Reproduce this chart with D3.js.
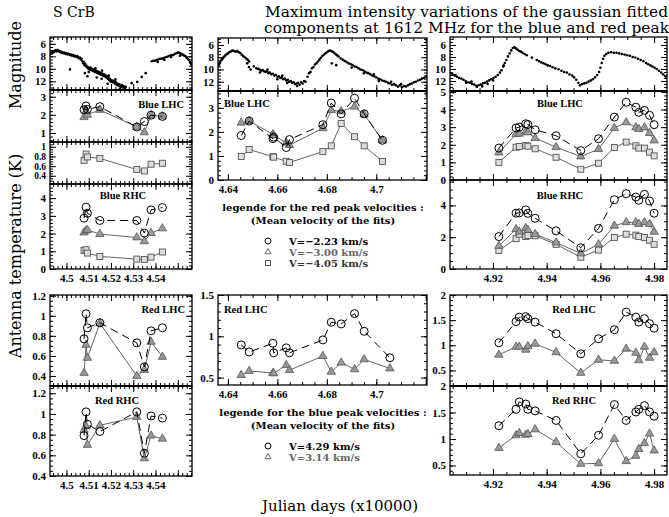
<!DOCTYPE html>
<html><head><meta charset="utf-8">
<script src="https://cdn.jsdelivr.net/npm/d3@7"></script>
<style>body{margin:0;background:#fff}svg{display:block}</style>
</head><body><svg id="c" width="669" height="517"></svg>
<script>
// ---------------- DATA ----------------
const magLeft = [[4.4929,7.6],[4.4932,7.4],[4.4936,7.5],[4.4940,7.2],[4.4944,7.3],[4.4948,7.1],[4.4952,7.0],[4.4956,7.2],[4.4960,7.0],[4.4964,7.1],[4.4968,7.3],[4.4972,7.2],[4.4976,7.4],[4.4980,7.3],[4.4985,7.5],[4.4990,7.4],[4.4995,7.6],[4.5000,7.5],[4.5005,7.7],[4.5010,7.6],[4.5015,7.8],[4.5020,7.7],[4.5025,7.9],[4.5030,7.8],[4.5035,8.0],[4.5040,7.9],[4.5045,8.1],[4.5050,8.0],[4.5055,8.3],[4.5060,8.2],[4.5064,8.5],[4.5068,8.4],[4.5072,8.8],[4.5075,9.1],[4.5078,8.9],[4.5081,9.4],[4.5084,9.2],[4.5087,9.6],[4.5090,9.5],[4.5093,9.8],[4.5096,9.7],[4.5099,10.0],[4.5102,9.9],[4.5105,10.1],[4.5108,9.8],[4.5111,10.2],[4.5114,10.0],[4.5117,10.3],[4.5120,10.1],[4.5123,10.4],[4.5126,10.2],[4.5129,10.5],[4.5132,10.3],[4.5135,10.6],[4.5138,10.4],[4.5141,10.7],[4.5144,10.5],[4.5147,10.8],[4.5150,10.6],[4.5153,10.9],[4.5156,10.7],[4.5159,11.0],[4.5162,10.8],[4.5165,11.1],[4.5168,10.9],[4.5171,11.2],[4.5174,11.0],[4.5177,11.3],[4.5180,11.4],[4.5183,11.2],[4.5186,11.6],[4.5189,11.5],[4.5192,11.8],[4.5195,11.6],[4.5198,12.0],[4.5201,11.8],[4.5204,12.1],[4.5207,11.9],[4.5210,12.2],[4.5214,12.0],[4.5218,12.4],[4.5222,12.2],[4.5226,12.6],[4.5230,12.4],[4.5234,12.7],[4.5238,12.5],[4.5242,12.8],[4.5246,12.9],[4.5250,12.6],[4.5254,13.0],[4.5258,12.8],[4.5262,13.1],[4.5266,12.9],
[4.5016,10.1],[4.5083,10.7],[4.5094,11.2],[4.5136,11.4],[4.5158,11.6],[4.5218,12.0],[4.5185,12.4],[4.5240,13.2],[4.5100,10.5],[4.5130,9.9],[4.5160,10.3],[4.5190,11.1],[4.5220,11.7],
[4.5293,12.3],[4.5318,12.1],[4.5338,11.3],[4.5356,10.7],
[4.5383,8.8],[4.5390,8.7],[4.5398,8.7],[4.5405,8.6],[4.5412,8.5],[4.5420,8.4],[4.5428,8.4],[4.5435,8.3],[4.5442,8.2],[4.5450,8.1],[4.5458,8.0],[4.5465,7.9],[4.5472,7.8],[4.5480,7.8],[4.5487,7.6],[4.5494,7.5],[4.5500,7.4],[4.5505,7.4],[4.5510,7.5],[4.5515,7.6],[4.5520,7.7],[4.5525,7.8],[4.5530,7.9],[4.5535,8.0],[4.5540,8.2],[4.5545,8.4],[4.5550,8.6],[4.5555,8.9],[4.5560,9.2],[4.5563,9.4],[4.5410,8.9],[4.5440,8.6],[4.5470,8.1],[4.5510,7.9]];

const magMid = [[4.6363,9.3],[4.6366,9.0],[4.6369,8.8],[4.6373,8.5],[4.6377,8.3],[4.6381,8.1],[4.6385,7.9],[4.6390,7.7],[4.6395,7.5],[4.6400,7.4],[4.6405,7.2],[4.6410,7.1],[4.6415,7.0],[4.6420,6.9],[4.6426,7.0],[4.6432,7.1],[4.6438,7.0],[4.6444,7.2],[4.6450,7.3],[4.6456,7.6],[4.6462,7.8],[4.6468,8.0],[4.6474,8.2],[4.6480,8.4],[4.6486,8.7],
[4.6485,9.6],[4.6492,10.0],[4.6478,9.0],
[4.6505,9.5],[4.6515,9.8],[4.6522,9.9],[4.6528,10.0],[4.6534,10.2],[4.6540,10.1],[4.6546,10.3],[4.6552,10.4],[4.6558,10.3],[4.6564,10.6],[4.6570,10.5],[4.6576,10.8],[4.6582,10.7],[4.6588,11.0],[4.6594,10.9],[4.6600,11.2],[4.6606,11.1],[4.6612,11.4],[4.6618,11.3],[4.6624,11.6],[4.6630,11.5],[4.6636,11.8],[4.6642,11.7],[4.6648,12.0],[4.6654,11.9],[4.6660,12.2],[4.6666,12.1],[4.6672,12.4],[4.6678,12.3],[4.6684,12.2],[4.6690,12.5],[4.6696,12.1],[4.6702,12.3],[4.6708,11.9],[4.6714,12.0],
[4.6530,10.5],[4.6560,10.0],[4.6600,11.6],[4.6640,12.2],[4.6680,12.7],[4.6620,11.0],
[4.6722,11.2],[4.6728,10.6],[4.6734,10.4],[4.6740,9.8],[4.6746,9.6],[4.6752,9.2],[4.6758,9.0],[4.6764,8.7],[4.6770,8.4],[4.6776,8.1],[4.6782,7.8],[4.6788,7.6],[4.6794,7.4],[4.6800,7.2],[4.6806,7.0],[4.6812,6.9],[4.6818,7.0],[4.6824,7.1],[4.6830,7.3],[4.6836,7.5],[4.6842,7.7],[4.6848,7.9],
[4.6820,9.0],[4.6838,9.3],
[4.6856,8.2],[4.6864,8.4],[4.6872,8.6],[4.6880,8.8],[4.6888,9.0],[4.6896,9.1],[4.6904,9.3],[4.6912,9.5],[4.6920,9.6],[4.6928,9.8],[4.6936,10.0],[4.6944,10.1],[4.6952,10.3],[4.6960,10.5],[4.6968,10.6],[4.6976,10.8],[4.6984,11.0],[4.6992,11.1],[4.7000,11.3],[4.7008,11.5],[4.7016,11.6],[4.7024,11.8],[4.7032,11.9],[4.7040,12.0],[4.7048,12.2],[4.7056,12.3],[4.7064,12.5],[4.7072,12.4],[4.7080,12.6],[4.7088,12.8],[4.7096,12.6],[4.7104,12.9],[4.7112,12.7],[4.7120,12.8],[4.7128,12.6],[4.7136,12.4],[4.7144,12.3],[4.7152,12.1],[4.7160,12.0],[4.7168,11.8],[4.7176,11.7],[4.7184,11.5],[4.7192,11.4],[4.7200,11.2],
[4.6900,9.7],[4.6950,10.6],[4.6990,10.8],[4.7010,11.9],[4.7060,12.0],[4.7100,12.4]];

const magRight = [[4.9043,10.7],[4.9050,10.9],[4.9058,11.1],[4.9066,11.3],[4.9074,11.5],[4.9082,11.6],[4.9090,11.8],[4.9098,12.0],[4.9106,12.2],[4.9114,12.3],[4.9122,12.5],[4.9130,12.6],[4.9138,12.8],[4.9146,12.7],[4.9154,12.6],[4.9162,12.4],[4.9170,12.3],[4.9178,12.1],[4.9186,11.9],[4.9194,11.7],[4.9202,11.5],[4.9210,11.3],[4.9218,11.0],[4.9226,10.6],[4.9232,10.2],[4.9238,9.6],[4.9244,9.0],[4.9250,8.5],[4.9256,7.9],[4.9262,7.4],[4.9268,6.9],[4.9274,6.5],[4.9280,6.4],[4.9286,6.6],[4.9292,6.8],[4.9298,7.0],[4.9304,7.1],[4.9310,7.3],[4.9318,7.5],[4.9326,7.7],
[4.9060,11.0],[4.9100,12.3],[4.9140,13.0],[4.9180,12.5],[4.9120,12.1],[4.9160,12.9],[4.9200,11.9],[4.9240,9.4],
[4.9345,8.1],[4.9363,8.5],[4.9372,8.7],[4.9380,8.9],[4.9388,9.05],[4.9396,9.2],[4.9404,9.4],[4.9413,9.5],[4.9422,9.7],[4.9432,9.9],[4.9444,10.05],[4.9455,10.3],[4.9465,10.5],[4.9475,10.6],[4.9485,10.9],[4.9495,11.1],[4.9502,11.4],[4.9510,11.8],[4.9518,12.3],[4.9524,12.7],[4.9532,12.5],[4.9540,12.4],[4.9548,12.3],[4.9556,12.1],[4.9564,11.9],[4.9572,11.7],[4.9580,11.4],[4.9588,11.0],[4.9595,10.5],[4.9600,9.8],[4.9605,9.0],[4.9610,8.3],[4.9615,7.8],[4.9622,7.5],[4.9630,7.3],[4.9640,7.2],[4.9650,7.3],[4.9660,7.3],[4.9670,7.4],[4.9680,7.5],[4.9690,7.6],[4.9700,7.7],[4.9710,7.8],[4.9720,8.0],[4.9730,8.1],[4.9740,8.3],[4.9750,8.5],[4.9760,8.7],[4.9770,9.0],[4.9778,9.2],[4.9786,9.4],[4.9794,9.6],[4.9802,9.8],[4.9810,10.0],[4.9818,10.3],[4.9826,10.6],[4.9834,10.9],[4.9842,11.2],[4.9847,11.4]];

// epochs (JD / 10000)
const epochsLeft   = [4.5079, 4.5088, 4.5094, 4.5150, 4.5316, 4.5350, 4.5380, 4.5431];
const epochsMid    = [4.6454, 4.6486, 4.6582, 4.6585, 4.6636, 4.6649, 4.6784, 4.6818, 4.6858, 4.6912, 4.6951, 4.7025];
const epochsMidRed = [4.6454, 4.6486, 4.6582, 4.6585, 4.6636, 4.6649, 4.6784, 4.6818, 4.6858, 4.6912, 4.6951, 4.7055];
const epochsRight  = [4.9222, 4.9286, 4.9298, 4.9322, 4.9330, 4.9357, 4.9435, 4.9527, 4.9593, 4.9652, 4.9696, 4.9732, 4.9743, 4.9764, 4.9783, 4.9800];

// tick labels
const xLabelsLeft  = [4.5, 4.51, 4.52, 4.53, 4.54];
const xLabelsMid   = [4.64, 4.66, 4.68, 4.7];
const xLabelsRight = [4.92, 4.94, 4.96, 4.98];

// left column (K)
const leftBlueLHC_c  = [2.28, 2.49, 2.30, 2.45, 1.33, 1.63, 1.98, 1.91];
const leftBlueLHC_t  = [1.87, 2.20, 2.00, 2.27, 1.33, 1.03, 1.98, 1.91];
const leftBlueLHC_s  = [0.72, 0.85, 0.79, 0.76, 0.53, 0.50, 0.64, 0.66];
const leftBlueRHC_c  = [2.87, 3.49, 3.15, 2.74, 2.74, 2.03, 3.34, 3.47];
const leftBlueRHC_t  = [2.06, 2.17, 2.20, 1.97, 1.78, 1.56, 2.03, 2.29];
const leftBlueRHC_s  = [1.05, 1.09, 0.90, 0.71, 0.56, 0.54, 0.67, 0.96];
const leftRedLHC_c   = [0.77, 1.02, 0.88, 0.93, 0.73, 0.49, 0.85, 0.88];
const leftRedLHC_t   = [0.43, 0.71, 0.58, 0.925, 0.40, 0.46, 0.74, 0.59];
const leftRedRHC_c   = [0.79, 1.02, 0.90, 0.83, 1.02, 0.62, 0.98, 0.96];
const leftRedRHC_t   = [0.845, 0.88, 0.70, 0.89, 0.97, 0.57, 0.79, 0.76];
// middle column
const midBlueLHC_c   = [1.85, 2.45, 1.72, 1.78, 1.35, 1.68, 2.30, 3.20, 2.75, 3.40, 2.75, 1.65];
const midBlueLHC_t   = [2.38, 2.45, 1.90, 1.86, 1.55, 1.45, 2.15, 2.90, 2.85, 3.05, 2.72, 1.65];
const midBlueLHC_s   = [0.98, 1.27, 0.97, 0.95, 0.78, 0.73, 1.18, 1.42, 2.35, 1.80, 1.42, 0.77];
const midRedLHC_c    = [0.895, 0.81, 0.915, 0.80, 0.86, 0.80, 0.956, 1.17, 1.15, 1.275, 1.06, 0.74];
const midRedLHC_t    = [0.53, 0.58, 0.555, 0.55, 0.65, 0.59, 0.76, 0.57, 0.68, 0.60, 0.72, 0.61];
// right column
const rightBlueLHC_c = [1.81, 2.95, 3.00, 3.19, 3.15, 2.85, 2.51, 1.67, 2.34, 3.57, 4.41, 4.13, 3.84, 3.95, 3.67, 3.14];
const rightBlueLHC_t = [1.56, 2.60, 2.62, 2.74, 2.70, 2.38, 1.86, 1.33, 1.75, 2.95, 3.27, 2.98, 2.89, 2.98, 2.66, 2.24];
const rightBlueLHC_s = [1.00, 1.86, 1.90, 1.96, 1.92, 1.77, 1.29, 0.61, 0.95, 1.84, 2.15, 1.94, 1.81, 1.81, 1.58, 1.37];
const rightBlueRHC_c = [2.04, 3.51, 3.53, 3.72, 3.50, 3.19, 2.40, 1.34, 2.55, 4.36, 4.74, 4.53, 4.32, 4.70, 4.28, 3.51];
const rightBlueRHC_t = [1.45, 2.51, 2.34, 2.57, 2.45, 2.19, 1.66, 0.98, 1.55, 2.72, 2.94, 2.94, 2.83, 2.94, 2.83, 2.34];
const rightBlueRHC_s = [1.17, 1.91, 2.19, 2.04, 2.10, 2.09, 1.55, 0.74, 1.19, 1.98, 2.19, 2.13, 2.04, 1.98, 1.81, 1.55];
const rightRedLHC_c  = [1.05, 1.47, 1.56, 1.57, 1.53, 1.46, 1.23, 0.83, 1.13, 1.31, 1.66, 1.56, 1.46, 1.53, 1.43, 1.34];
const rightRedLHC_t  = [0.81, 0.97, 0.97, 0.91, 0.98, 1.03, 0.86, 0.45, 0.71, 0.69, 0.93, 0.85, 0.70, 0.97, 0.75, 0.86];
const rightRedRHC_c  = [1.25, 1.56, 1.70, 1.66, 1.56, 1.53, 1.35, 0.72, 1.07, 1.65, 1.35, 1.51, 1.56, 1.63, 1.51, 1.43];
const rightRedRHC_t  = [0.83, 1.07, 1.11, 1.08, 1.09, 1.18, 0.94, 0.53, 0.54, 1.00, 0.58, 0.68, 0.81, 0.92, 1.10, 0.78];

const legendRed  = ["V=\u22122.23 km/s", "V=\u22123.00 km/s", "V=\u22124.05 km/s"];
const legendBlue = ["V=4.29 km/s", "V=3.14 km/s"];

// ---------------- DRAWING ----------------
const svg = d3.select("#c");
const SERIF = "'Liberation Serif', 'DejaVu Serif', serif";
const DSERIF = "'DejaVu Serif', serif";
const fmt = d => String(+d.toFixed(3));
function stepTicks(dom, step){
  const lo = Math.min(dom[0],dom[1]), hi = Math.max(dom[0],dom[1]); const out=[];
  for(let k=Math.ceil(lo/step-1e-6); k*step<=hi+1e-6; k++) out.push(+(k*step).toFixed(6));
  return out;
}
let clipN = 0;
function panel(p){
  const x = d3.scaleLinear().domain(p.xd).range([p.x0,p.x1]);
  const y = d3.scaleLinear().domain(p.yd).range([p.y1,p.y0]);
  const g = svg.append("g");
  const id = "cl"+(clipN++);
  svg.append("clipPath").attr("id",id).append("rect")
    .attr("x",p.x0).attr("y",p.y0).attr("width",p.x1-p.x0).attr("height",p.y1-p.y0);
  const xMaj = stepTicks(p.xd,p.xMaj), xMin = stepTicks(p.xd,p.xMin);
  const yMaj = stepTicks(p.yd,p.yMaj), yMin = stepTicks(p.yd,p.yMin);
  const fs = p.fs || 11;
  const style = sel => {
    sel.select(".domain").remove();
    sel.attr("font-family",null).attr("font-size",null);
    sel.selectAll("line").attr("stroke","#000").attr("stroke-width",1);
    sel.selectAll("text").attr("font-family",SERIF).attr("font-weight","bold").attr("font-size",fs).attr("fill","#000");
  };
  const xl = p.xLab ? (d => p.xLab.some(v=>Math.abs(v-d)<1e-6) ? fmt(d) : "") : "";
  g.append("g").attr("transform",`translate(0,${p.y1})`).call(d3.axisBottom(x).tickValues(xMin).tickSizeInner(-3).tickSizeOuter(0).tickFormat("")).call(style);
  g.append("g").attr("transform",`translate(0,${p.y0})`).call(d3.axisTop(x).tickValues(xMin).tickSizeInner(-3).tickSizeOuter(0).tickFormat("")).call(style);
  g.append("g").attr("transform",`translate(${p.x0},0)`).call(d3.axisLeft(y).tickValues(yMin).tickSizeInner(-3).tickSizeOuter(0).tickFormat("")).call(style);
  g.append("g").attr("transform",`translate(${p.x1},0)`).call(d3.axisRight(y).tickValues(yMin).tickSizeInner(-3).tickSizeOuter(0).tickFormat("")).call(style);
  g.append("g").attr("transform",`translate(0,${p.y1})`).call(d3.axisBottom(x).tickValues(xMaj).tickSizeInner(-6).tickSizeOuter(0).tickPadding(5).tickFormat(xl)).call(style);
  g.append("g").attr("transform",`translate(0,${p.y0})`).call(d3.axisTop(x).tickValues(xMaj).tickSizeInner(-6).tickSizeOuter(0).tickFormat("")).call(style);
  g.append("g").attr("transform",`translate(${p.x0},0)`).call(d3.axisLeft(y).tickValues(yMaj).tickSizeInner(-6).tickSizeOuter(0).tickPadding(4).tickFormat(fmt)).call(style);
  g.append("g").attr("transform",`translate(${p.x1},0)`).call(d3.axisRight(y).tickValues(yMaj).tickSizeInner(-6).tickSizeOuter(0).tickFormat("")).call(style);
  g.append("rect").attr("x",p.x0).attr("y",p.y0).attr("width",p.x1-p.x0).attr("height",p.y1-p.y0)
    .attr("fill","none").attr("stroke","#000").attr("stroke-width",1.3);
  if(p.label){
    g.append("text").attr("x",p.label[0]).attr("y",p.label[1]).attr("text-anchor",p.label[2]||"start")
      .attr("font-family",SERIF).attr("font-weight","bold").attr("font-size",10.5).text(p.label[3]);
  }
  const plot = g.append("g").attr("clip-path",`url(#${id})`);
  return {x,y,g,plot};
}
function magDots(P, data){
  P.plot.selectAll(null).data(data).join("circle")
    .attr("cx",d=>P.x(d[0])).attr("cy",d=>P.y(d[1])).attr("r",1.3).attr("fill","#000");
}
const triSym = d3.symbol().type(d3.symbolTriangle).size(30);
function series(P, t, v, kind){
  const pts = t.map((tt,i)=>({t:tt,v:v[i]}));
  const line = d3.line().x(d=>P.x(d.t)).y(d=>P.y(d.v));
  const path = P.g.append("path").attr("d",line(pts)).attr("fill","none");
  if(kind==="c") path.attr("stroke","#000").attr("stroke-width",1).attr("stroke-dasharray","8,5");
  else path.attr("stroke","#666").attr("stroke-width",1);
  const m = P.g.append("g");
  if(kind==="c"){
    m.selectAll(null).data(pts).join("circle").attr("cx",d=>P.x(d.t)).attr("cy",d=>P.y(d.v)).attr("r",4)
      .attr("fill","none").attr("stroke","#000").attr("stroke-width",1);
  } else if(kind==="t"){
    m.selectAll(null).data(pts).join("path").attr("d",triSym)
      .attr("transform",d=>`translate(${P.x(d.t)},${P.y(d.v)})`)
      .attr("fill","#999").attr("stroke","#555").attr("stroke-width",0.8);
  } else {
    m.selectAll(null).data(pts).join("rect").attr("x",d=>P.x(d.t)-3).attr("y",d=>P.y(d.v)-3)
      .attr("width",6).attr("height",6).attr("fill","#ddd").attr("stroke","#555").attr("stroke-width",0.9);
  }
}

// ---- Left column ----
const LX = [4.4926, 4.5564];
const Lmag = panel({x0:50,x1:192,y0:37,y1:90,xd:LX,yd:[13.4,4.9],xMaj:0.01,xMin:0.002,yMaj:2,yMin:0.5});
magDots(Lmag, magLeft);
const Lbl = panel({x0:50,x1:192,y0:90,y1:142,xd:LX,yd:[0.5,3.37],xMaj:0.01,xMin:0.002,yMaj:1,yMin:0.2,label:[184,108,"end","Blue LHC"]});
series(Lbl, epochsLeft, leftBlueLHC_t, "t"); series(Lbl, epochsLeft, leftBlueLHC_c, "c");
const Lbl2 = panel({x0:50,x1:192,y0:142,y1:184,xd:LX,yd:[0.23,1.1],xMaj:0.01,xMin:0.002,yMaj:0.2,yMin:0.05,fs:9.5});
series(Lbl2, epochsLeft, leftBlueLHC_s, "s");
const Lbr = panel({x0:50,x1:192,y0:184,y1:269,xd:LX,yd:[0,4.8],xMaj:0.01,xMin:0.002,yMaj:1,yMin:0.2,xLab:xLabelsLeft,label:[123,199,"middle","Blue RHC"]});
series(Lbr, epochsLeft, leftBlueRHC_s, "s"); series(Lbr, epochsLeft, leftBlueRHC_t, "t"); series(Lbr, epochsLeft, leftBlueRHC_c, "c");
const Lrl = panel({x0:50,x1:192,y0:295,y1:386,xd:LX,yd:[0.3,1.207],xMaj:0.01,xMin:0.002,yMaj:0.2,yMin:0.05,label:[185,313,"end","Red LHC"]});
series(Lrl, epochsLeft, leftRedLHC_t, "t"); series(Lrl, epochsLeft, leftRedLHC_c, "c");
const Lrr = panel({x0:50,x1:192,y0:386,y1:476,xd:LX,yd:[0.4,1.27],xMaj:0.01,xMin:0.002,yMaj:0.2,yMin:0.05,xLab:xLabelsLeft,label:[117,404,"middle","Red RHC"]});
series(Lrr, epochsLeft, leftRedRHC_t, "t"); series(Lrr, epochsLeft, leftRedRHC_c, "c");

// ---- Middle column ----
const MX = [4.636, 4.7205];
const Mmag = panel({x0:218,x1:427,y0:38,y1:91,xd:MX,yd:[13.52,4.86],xMaj:0.02,xMin:0.005,yMaj:2,yMin:0.5});
magDots(Mmag, magMid);
const Mbl = panel({x0:218,x1:427,y0:91,y1:180,xd:MX,yd:[0,3.7],xMaj:0.02,xMin:0.005,yMaj:1,yMin:0.2,xLab:xLabelsMid,label:[224,107,"start","Blue LHC"]});
series(Mbl, epochsMid, midBlueLHC_s, "s"); series(Mbl, epochsMid, midBlueLHC_t, "t"); series(Mbl, epochsMid, midBlueLHC_c, "c");
const Mrl = panel({x0:218,x1:427,y0:295,y1:385,xd:MX,yd:[0.41,1.5],xMaj:0.02,xMin:0.005,yMaj:0.5,yMin:0.1,xLab:xLabelsMid,label:[224,313,"start","Red LHC"]});
series(Mrl, epochsMidRed, midRedLHC_t, "t"); series(Mrl, epochsMidRed, midRedLHC_c, "c");

// ---- Right column ----
const RX = [4.904, 4.9848];
const Rmag = panel({x0:450,x1:667,y0:37,y1:91,xd:RX,yd:[13.67,4.67],xMaj:0.02,xMin:0.005,yMaj:2,yMin:0.5});
magDots(Rmag, magRight);
const Rbl = panel({x0:450,x1:667,y0:91,y1:180,xd:RX,yd:[0,5.05],xMaj:0.02,xMin:0.005,yMaj:1,yMin:0.2,label:[560,107,"middle","Blue LHC"]});
series(Rbl, epochsRight, rightBlueLHC_s, "s"); series(Rbl, epochsRight, rightBlueLHC_t, "t"); series(Rbl, epochsRight, rightBlueLHC_c, "c");
const Rbr = panel({x0:450,x1:667,y0:180,y1:269,xd:RX,yd:[0,5.6],xMaj:0.02,xMin:0.005,yMaj:2,yMin:0.5,xLab:xLabelsRight,label:[560,199,"middle","Blue RHC"]});
series(Rbr, epochsRight, rightBlueRHC_s, "s"); series(Rbr, epochsRight, rightBlueRHC_t, "t"); series(Rbr, epochsRight, rightBlueRHC_c, "c");
const Rrl = panel({x0:450,x1:667,y0:295,y1:386,xd:RX,yd:[0.19,2.0],xMaj:0.02,xMin:0.005,yMaj:0.5,yMin:0.1,label:[574,313,"middle","Red LHC"]});
series(Rrl, epochsRight, rightRedLHC_t, "t"); series(Rrl, epochsRight, rightRedLHC_c, "c");
const Rrr = panel({x0:450,x1:667,y0:386,y1:475,xd:RX,yd:[0.32,2.0],xMaj:0.02,xMin:0.005,yMaj:0.5,yMin:0.1,xLab:xLabelsRight,label:[574,404,"middle","Red RHC"]});
series(Rrr, epochsRight, rightRedRHC_t, "t"); series(Rrr, epochsRight, rightRedRHC_c, "c");

// thicker shared borders
[[50,192,90],[218,427,91],[450,667,91],[50,192,386],[450,667,386]].forEach(([a,b,yy])=>{
  svg.append("line").attr("x1",a).attr("x2",b).attr("y1",yy).attr("y2",yy).attr("stroke","#000").attr("stroke-width",2.2);
});

// ---- Legends ----
function legend(lines, items, cx, y1, yItems, colors){
  lines.forEach((s,i)=>svg.append("text").attr("x",cx).attr("y",y1+i*12.5).attr("text-anchor","middle")
    .attr("font-family",DSERIF).attr("font-weight","bold").attr("font-size",10).text(s));
  items.forEach((s,i)=>{
    const yy = yItems[i];
    if(i===0) svg.append("circle").attr("cx",268).attr("cy",yy).attr("r",3).attr("fill","none").attr("stroke","#000");
    else if(i===1) svg.append("path").attr("d",d3.symbol().type(d3.symbolTriangle).size(16)()).attr("transform",`translate(268,${yy})`).attr("fill","none").attr("stroke","#666");
    else svg.append("rect").attr("x",265.5).attr("y",yy-2.5).attr("width",5).attr("height",5).attr("fill","none").attr("stroke","#555");
    svg.append("text").attr("x",289).attr("y",yy+4).attr("font-family",DSERIF).attr("font-weight","bold")
      .attr("font-size",10).attr("fill",colors[i]).text(s);
  });
}
legend(["legende for the red peak velocities :","(Mean velocity of the fits)"], legendRed, 323, 211, [241,252,263], ["#000","#666","#333"]);
legend(["legende for the blue peak velocities :","(Mean velocity of the fits)"], legendBlue, 323, 416, [446,457], ["#000","#666"]);

// ---- Titles ----
svg.append("text").attr("x",53).attr("y",17).attr("font-family",DSERIF).attr("font-size",14).text("S CrB");
svg.append("text").attr("x",265).attr("y",17).attr("font-family",DSERIF).attr("font-size",14)
  .attr("textLength",403).attr("lengthAdjust","spacingAndGlyphs").text("Maximum intensity variations of the gaussian fitted");
svg.append("text").attr("x",264).attr("y",33).attr("font-family",DSERIF).attr("font-size",14)
  .attr("textLength",405).attr("lengthAdjust","spacingAndGlyphs").text("components at 1612 MHz for the blue and red peak");
svg.append("text").attr("transform","translate(21,65) rotate(-90)").attr("text-anchor","middle")
  .attr("font-family",DSERIF).attr("font-size",16).text("Magnitude");
svg.append("text").attr("transform","translate(21,256) rotate(-90)").attr("text-anchor","middle")
  .attr("font-family",DSERIF).attr("font-size",16).text("Antenna temperature (K)");
svg.append("text").attr("x",340).attr("y",511).attr("text-anchor","middle")
  .attr("font-family",DSERIF).attr("font-size",15).text("Julian days (x10000)");
</script></body></html>
